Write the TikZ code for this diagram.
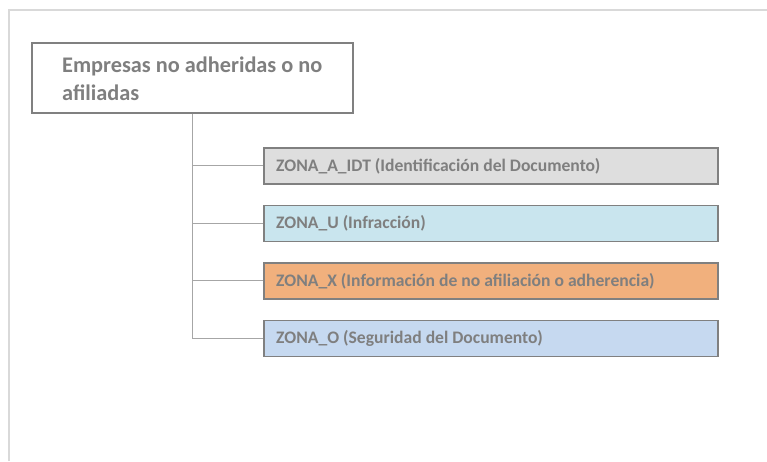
\documentclass[tikz,border=0pt]{standalone}
\usepackage{fontspec}
\setmainfont{Carlito}
\definecolor{frameC}{HTML}{D9D9D9}
\definecolor{edgeC}{HTML}{808080}
\definecolor{lineC}{HTML}{A6A6A6}
\definecolor{txtC}{HTML}{7F7F7F}
\definecolor{fillA}{HTML}{DEDEDE}
\definecolor{fillU}{HTML}{C9E5EE}
\definecolor{fillX}{HTML}{F1B07D}
\definecolor{fillO}{HTML}{C6D9F0}
\tikzset{
  x=1pt,y=-1pt,
  rootbox/.style={draw=edgeC,line width=1.6pt,fill=white,minimum width=321pt,minimum height=70pt,anchor=north west,inner sep=0pt},
  zonebox/.style={draw=edgeC,line width=1.6pt,minimum width=454pt,minimum height=36pt,anchor=north west,inner sep=0pt},
  zonetext/.style={anchor=west,text=txtC,font=\bfseries\fontsize{17.6}{20}\selectfont,inner sep=0pt},
  branch/.style={draw=lineC,line width=1pt}
}
\begin{document}
\begin{tikzpicture}
\useasboundingbox (0,0) rectangle (767,461);
\fill[white] (0,0) rectangle (767,461);
\draw[frameC,line width=2pt] (9,461) -- (9,9.5) -- (767,9.5);
\node[rootbox] (root) at (31,42) {};
\node[anchor=north west,text=txtC,align=left,inner sep=0pt,font=\bfseries\fontsize{22.3}{28}\selectfont] (roottxt) at (62,56.5) {Empresas no adheridas o no\\afiliadas};
\node[zonebox,fill=fillA] (za) at (263,147) {};
\node[zonebox,fill=fillU] (zu) at (263,204.5) {};
\node[zonebox,fill=fillX] (zx) at (263,262) {};
\node[zonebox,fill=fillO] (zo) at (263,319.5) {};
\node[zonetext] (ta) at ([xshift=13pt]za.west) {ZONA\_A\_IDT (Identificación del Documento)};
\node[zonetext] (tu) at ([xshift=13pt]zu.west) {ZONA\_U (Infracción)};
\node[zonetext] (tx) at ([xshift=13pt]zx.west) {ZONA\_X (Información de no afiliación o adherencia)};
\node[zonetext] (to) at ([xshift=13pt]zo.west) {ZONA\_O (Seguridad del Documento)};
\coordinate (trunk) at (192,0);
\draw[branch] (root.south -| trunk) -- (zo.west -| trunk) -- (zo.west);
\draw[branch] (za.west -| trunk) -- (za.west);
\draw[branch] (zu.west -| trunk) -- (zu.west);
\draw[branch] (zx.west -| trunk) -- (zx.west);
\end{tikzpicture}
\end{document}
